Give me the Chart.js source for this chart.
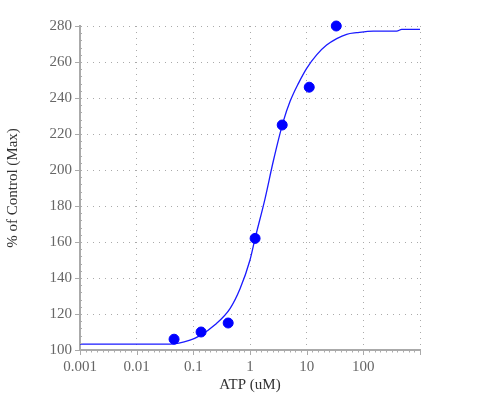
<!DOCTYPE html>
<html>
<head>
<meta charset="utf-8">
<script src="https://cdn.jsdelivr.net/npm/chart.js@4"></script>
<style>
  html, body { margin: 0; padding: 0; background: #fff; }
  #wrap { width: 500px; height: 400px; }
</style>
</head>
<body>
<div id="wrap"><canvas id="myChart" width="500" height="400"></canvas></div>
<script>
// measured points (ATP dilution series)
const atpConc = [0.0457, 0.137, 0.412, 1.23, 3.7, 11.1, 33.3];
const pctControl = [106, 110, 115, 162, 225, 246, 280];

// fitted curve
const curveX = [0.001, 0.0388, 0.0873, 0.131, 0.241, 0.444, 0.667, 1, 1.23, 1.84, 2.58, 3.87, 5.08, 7.12, 10.0, 15.0, 22.5, 33.9, 50.8, 76.4, 150, 389, 475, 1000];
const curveY = [103.3, 103.3, 105.5, 108, 114, 123, 134, 150, 162, 184, 205, 227, 238, 248, 256.5, 264, 269.4, 273, 275.4, 276.3, 277.2, 277.2, 278.1, 278.1];

// axes
const xTicks = [0.001, 0.01, 0.1, 1, 10, 100, 1000];
const xTickLabels = ['0.001', '0.01', '0.1', '1', '10', '100', ''];
const yMin = 100, yMax = 280, yStep = 20, yMinorStep = 4;

const fontFam = "'Liberation Serif', 'Times New Roman', serif";
const axisGrey = '#aaa';

// little ticks along the axis lines
const axisTicks = {
    id: 'axisTicks',
    afterDraw(chart) {
        const ctx = chart.ctx;
        const x = chart.scales.x, y = chart.scales.y;
        ctx.save();
        ctx.strokeStyle = axisGrey;
        ctx.lineWidth = 1;
        ctx.beginPath();
        for (let v = yMin; v <= yMax; v += yMinorStep) {
            const py = Math.round(y.getPixelForValue(v)) + 0.5;
            const major = (v - yMin) % yStep === 0;
            ctx.moveTo(x.left - (major ? 5 : 0), py);
            ctx.lineTo(x.left + 2, py);
        }
        for (let d = 0; d < xTicks.length; d++) {
            const base = xTicks[d];
            const px = Math.round(x.getPixelForValue(base)) + 0.5;
            ctx.moveTo(px, y.bottom);
            ctx.lineTo(px, y.bottom + 5);
            if (d === xTicks.length - 1) break;
            const p0 = x.getPixelForValue(base), p1 = x.getPixelForValue(xTicks[d + 1]);
            for (let k = 1; k < 10; k++) {
                const pm = Math.round(p0 + (p1 - p0) * k / 10) + 0.5;
                ctx.moveTo(pm, y.bottom);
                ctx.lineTo(pm, y.bottom + 2.5);
            }
        }
        ctx.stroke();
        ctx.restore();
    }
};

const ctx = document.getElementById('myChart').getContext('2d');
const myChart = new Chart(ctx, {
    type: 'scatter',
    data: {
        datasets: [{
            label: 'fit',
            data: curveX.map((v, i) => ({ x: v, y: curveY[i] })),
            showLine: true,
            borderColor: '#1a1aff',
            borderWidth: 1.3,
            pointRadius: 0,
            cubicInterpolationMode: 'monotone',
            order: 2
        }, {
            label: 'data',
            data: atpConc.map((v, i) => ({ x: v, y: pctControl[i] })),
            backgroundColor: '#0000ff',
            borderColor: '#0000ff',
            pointRadius: 5,
            pointHoverRadius: 5,
            clip: false,
            order: 1
        }]
    },
    plugins: [axisTicks],
    options: {
        responsive: false,
        animation: false,
        events: [],
        layout: { padding: { top: 26, right: 80, left: 0, bottom: 0 } },
        plugins: { legend: { display: false }, tooltip: { enabled: false } },
        scales: {
            x: {
                type: 'logarithmic',
                min: 0.001,
                max: 1000,
                afterBuildTicks: (scale) => { scale.ticks = xTicks.map(v => ({ value: v })); },
                afterFit: (scale) => { scale.height = 50; },
                ticks: {
                    autoSkip: false,
                    maxRotation: 0,
                    padding: 8,
                    color: '#666',
                    font: { family: fontFam, size: 15 },
                    callback: (v, i) => xTickLabels[i]
                },
                grid: { color: axisGrey, lineWidth: 1, drawTicks: false },
                border: { display: true, color: axisGrey, width: 2, dash: [1, 5] },
                title: {
                    display: true,
                    text: 'ATP (uM)',
                    color: '#333',
                    font: { family: fontFam, size: 15 },
                    padding: { top: 0, bottom: 6 }
                }
            },
            y: {
                min: yMin,
                max: yMax,
                afterFit: (scale) => { scale.width = 80; },
                ticks: {
                    stepSize: yStep,
                    padding: 8,
                    color: '#666',
                    font: { family: fontFam, size: 15 }
                },
                grid: { color: axisGrey, lineWidth: 1, drawTicks: false },
                border: { display: true, color: axisGrey, width: 2, dash: [1, 5] },
                title: {
                    display: true,
                    text: '% of Control (Max)',
                    color: '#333',
                    font: { family: fontFam, size: 15 },
                    padding: { top: 4, bottom: 0 }
                }
            }
        }
    }
});
</script>
</body>
</html>
